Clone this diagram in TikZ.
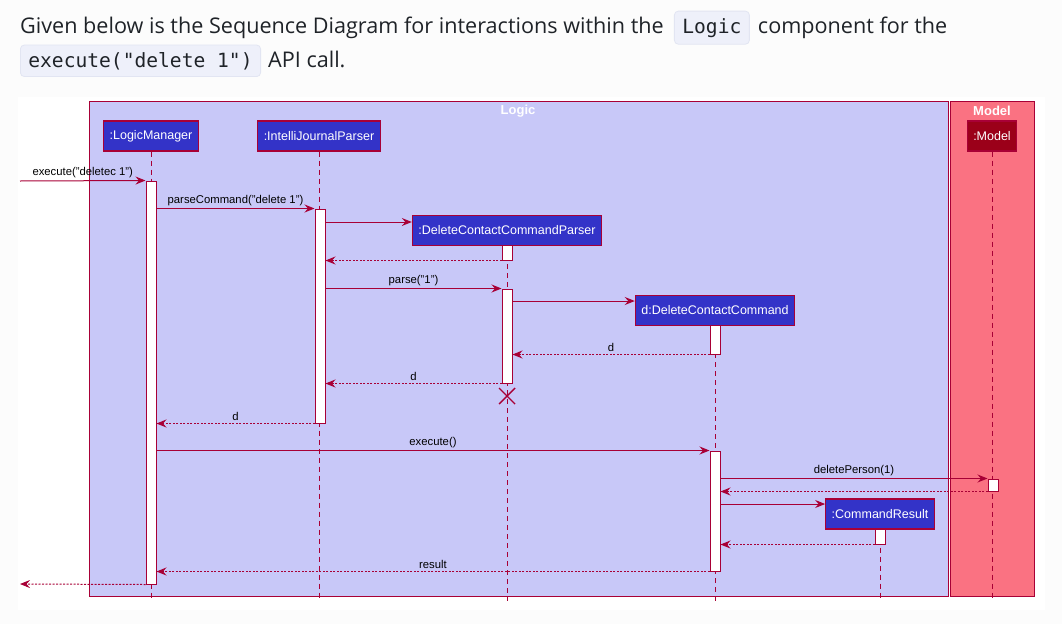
\documentclass[tikz,border=0pt]{standalone}
\usepackage{fontspec}
\setmainfont{Open Sans}
\setsansfont{Liberation Sans}
\setmonofont{DejaVu Sans Mono}
\usepackage{xcolor}
\usetikzlibrary{arrows.meta, positioning, fit, calc}
\definecolor{sqpage}{RGB}{252,252,252}
\definecolor{sqtext}{RGB}{31,35,40}
\definecolor{sqchip}{RGB}{238,240,250}
\definecolor{sqchipline}{RGB}{226,229,242}
\definecolor{sqline}{RGB}{168,0,54}
\definecolor{sqlogic}{RGB}{200,200,248}
\definecolor{sqmodel}{RGB}{250,114,130}
\definecolor{sqpart}{RGB}{51,51,200}
\definecolor{sqmodelpart}{RGB}{155,0,25}
\tikzset{
  headtext/.style  = {anchor=base west, inner sep=0pt, text=sqtext,
                      font=\fontsize{21.6}{26}\selectfont},
  chip/.style      = {anchor=base west, rectangle, rounded corners=4pt, fill=sqchip,
                      draw=sqchipline, line width=0.8pt, text=sqtext,
                      font=\ttfamily\fontsize{19.6}{24}\selectfont,
                      inner xsep=8pt, inner ysep=7pt},
  frame/.style     = {draw=sqline, line width=1pt},
  frametitle/.style= {text=white, font=\sffamily\bfseries\fontsize{13}{15}\selectfont,
                      inner sep=0pt},
  part/.style      = {rectangle, draw=sqline, line width=1.2pt, fill=sqpart, text=white,
                      font=\sffamily\fontsize{12.5}{14}\selectfont,
                      minimum height=30pt, inner xsep=6pt, inner ysep=0pt},
  modelpart/.style = {part, fill=sqmodelpart},
  lifeline/.style  = {draw=sqline, line width=1pt, dash pattern=on 5pt off 4pt},
  actbar/.style    = {rectangle, draw=sqline, line width=1pt, fill=white, inner sep=0pt},
  msg/.style       = {-{Stealth[length=10pt, width=8pt, inset=3.5pt]}, draw=sqline,
                      line width=1pt},
  ret/.style       = {msg, dash pattern=on 2pt off 1.5pt},
  msglab/.style    = {above, midway, inner sep=2pt, text=black,
                      font=\sffamily\fontsize{11.3}{13}\selectfont},
}
\begin{document}
\begin{tikzpicture}[x=1pt, y=-1pt]
  \useasboundingbox[fill=sqpage] (0,0) rectangle (1062,624);

  % intro text above the diagram
  \node[headtext] (intro1) at (20,33) {Given below is the Sequence Diagram for interactions within the};
  \node[chip] (chiplogic) at ($(intro1.base east)+(10,0)$) {Logic};
  \node[headtext] (intro2) at ($(chiplogic.base east)+(8,0)$) {component for the};
  \node[chip] (chipexec) at (20,67) {execute("delete 1")};
  \node[headtext] (intro3) at ($(chipexec.base east)+(7,0)$) {API call.};

  % diagram background and frames
  \fill[white] (18,97) rectangle (1045,610);
  \draw[frame, fill=sqlogic] (89,101) rectangle (948,596);
  \draw[frame, fill=sqmodel] (950,101) rectangle (1034,596);
  \node[frametitle] (logictitle) at (518,111) {Logic};
  \node[frametitle] (modeltitle) at (992,111) {Model};

  % participants
  \node[part] (lm)   at (151,136)   {:LogicManager};
  \node[part] (ijp)  at (319,136)   {:IntelliJournalParser};
  \node[part] (dccp) at (507,230.5) {:DeleteContactCommandParser};
  \node[part] (dcc)  at (715,310.5) {d:DeleteContactCommand};
  \node[part] (cr)   at (880,514)   {:CommandResult};
  \node[modelpart] (mdl) at (992,136) {:Model};

  % lifelines
  \coordinate (bot) at (0,601);
  \coordinate (xend) at (507,383);
  \foreach \p in {lm, ijp, dcc, cr, mdl}
    \draw[lifeline] (\p.south) -- (\p.south |- bot);
  \draw[lifeline] (dccp.south) -- (dccp.south |- bot);

  % activation bars
  \node[actbar, fit={(146,181) (156,584)}] (lmA) {};
  \node[actbar, fit={(315,209) (325,423)}] (ijpA) {};
  \node[actbar, fit={(502,245) (512,260)}] (dccpA) {};
  \node[actbar, fit={(502,289) (512,383)}] (dccpB) {};
  \node[actbar, fit={(710,325) (720,354)}] (dccA) {};
  \node[actbar, fit={(710,451) (720,571)}] (dccB) {};
  \node[actbar, fit={(988,479) (998,491)}] (mdlA) {};
  \node[actbar, fit={(875,529) (885,544)}] (crA) {};

  % messages
  \coordinate (inL) at (20,181);
  \coordinate (outL) at (20,584);
  \draw[msg] (inL) -- (lmA.north west) node[msglab] {execute("deletec 1")};
  \draw[msg] (lmA.east |- ijpA.north) -- (ijpA.north west) node[msglab] {parseCommand("delete 1")};
  \draw[msg] (ijpA.east |- 0,222) -- (dccp.west |- 0,222);
  \draw[ret] (dccpA.south west) -- (ijpA.east |- dccpA.south);
  \draw[msg] (ijpA.east |- dccpB.north) -- (dccpB.north west) node[msglab] {parse("1")};
  \draw[msg] (dccpB.east |- 0,301) -- (dcc.west |- 0,301);
  \draw[ret] (dccA.south west) -- (dccpB.east |- dccA.south) node[msglab] {d};
  \draw[ret] (dccpB.south west) -- (ijpA.east |- dccpB.south) node[msglab] {d};
  \draw[sqline, line width=1.4pt] ($(xend)+(-8,5)$) -- ($(xend)+(8,21)$)
                                  ($(xend)+(-8,21)$) -- ($(xend)+(8,5)$);
  \draw[ret] (ijpA.south west) -- (lmA.east |- ijpA.south) node[msglab] {d};
  \draw[msg] (lmA.east |- dccB.north) -- (dccB.north west) node[msglab] {execute()};
  \draw[msg] (dccB.east |- mdlA.north) -- (mdlA.north west) node[msglab] {deletePerson(1)};
  \draw[ret] (mdlA.south west) -- (dccB.east |- mdlA.south);
  \draw[msg] (dccB.east |- 0,504) -- (cr.west |- 0,504);
  \draw[ret] (crA.south west) -- (dccB.east |- crA.south);
  \draw[ret] (dccB.south west) -- (lmA.east |- dccB.south) node[msglab] {result};
  \draw[ret] (lmA.south west) -- (outL);
\end{tikzpicture}
\end{document}
